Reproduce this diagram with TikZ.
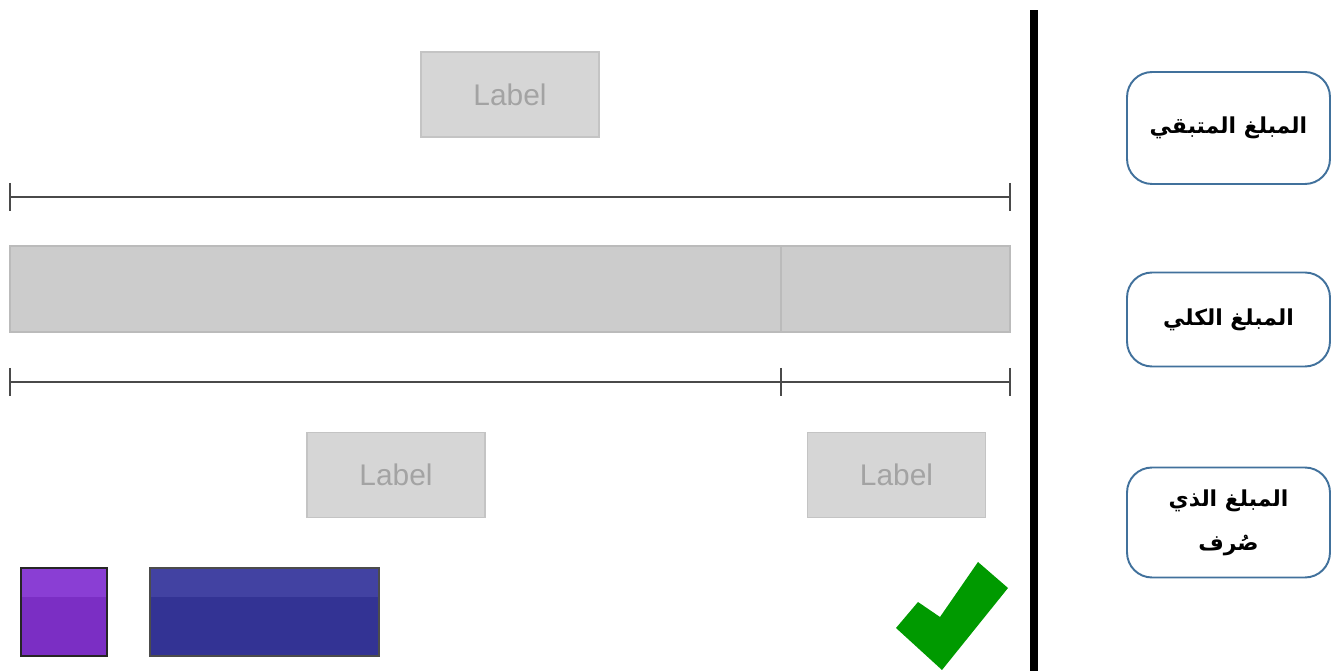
\documentclass[tikz,border=0pt]{standalone}
\usepackage{fontspec}
\setmainfont{Liberation Sans}
\newfontfamily\arabicfont[Script=Arabic]{DejaVu Sans}
\TeXXeTstate=1
\usetikzlibrary{calc,positioning}
\definecolor{labelgray}{HTML}{D6D6D6}
\definecolor{labeledge}{HTML}{C4C4C4}
\definecolor{labeltext}{HTML}{A3A3A3}
\definecolor{barfill}{HTML}{CCCCCC}
\definecolor{baredge}{HTML}{BBBBBB}
\definecolor{rulegray}{HTML}{4A4A4A}
\definecolor{boxblue}{HTML}{41719C}
\definecolor{ticklow}{HTML}{7B2EC4}
\definecolor{tickhigh}{HTML}{8A3ED4}
\definecolor{navylow}{HTML}{333394}
\definecolor{navyhigh}{HTML}{4242A2}
\definecolor{checkgreen}{HTML}{009A00}

\tikzset{
  labelbox/.style={fill=labelgray,draw=labeledge,line width=0.8pt,minimum width=3.56cm,minimum height=1.7cm,inner sep=0pt,text=labeltext,font=\fontsize{17}{20}\selectfont},
  termbox/.style={draw=boxblue,line width=1.1pt,rounded corners=0.5cm,minimum width=4.06cm,inner sep=0pt,align=center,font=\arabicfont\bfseries\fontsize{12.5}{25}\selectfont},
  measure/.style={rulegray,line width=1.1pt}
}

\begin{document}
\begin{tikzpicture}[x=0.02cm,y=-0.02cm]
\useasboundingbox (0,0) rectangle (1333,671);
% label boxes
\node[labelbox] (whole) at (510,94.5) {Label};
\node[labelbox] (spent) at (396,475) {Label};
\node[labelbox] (left) at (896.5,475) {Label};
% bar model
\draw[fill=barfill,draw=baredge,line width=0.8pt] (10,246) rectangle (781,332);
\draw[fill=barfill,draw=baredge,line width=0.8pt] (781,246) rectangle (1010,332);
% measures
\coordinate (ta) at (10,197); \coordinate (tb) at (1010,197);
\coordinate (ba) at (10,382); \coordinate (bm) at (781,382); \coordinate (bb) at (1010,382);
\draw[measure] (ta) -- (tb);
\draw[measure] (ba) -- (bb);
\foreach \p in {ta,tb,ba,bm,bb}
  \draw[measure] ($(\p)+(0,-14)$) -- ($(\p)+(0,14)$);
% pieces
\fill[ticklow] (21,568) rectangle (107,656);
\fill[tickhigh] (21,568) rectangle (107,597);
\draw[black!85,line width=1.3pt] (21,568) rectangle (107,656);
\fill[navylow] (150,568) rectangle (379,656);
\fill[navyhigh] (150,568) rectangle (379,597);
\draw[black!70,line width=1pt] (150,568) rectangle (379,656);
% check mark
\fill[checkgreen] (896,628) -- (918,602) -- (940,617) -- (978,562) -- (1008,588) -- (942,670) -- cycle;
% divider
\fill[black] (1030,10) rectangle (1038,671);
% terms
\node[termbox,minimum height=2.24cm] (rest) at (1228.5,128) {\beginR المبلغ المتبقي\endR};
\node[termbox,minimum height=1.88cm] (total) at (1228.5,319.5) {\beginR المبلغ الكلي\endR};
\node[termbox,minimum height=2.2cm] (paid) at (1228.5,522.5) {\beginR المبلغ الذي\endR\\\beginR صُرف\endR};
\end{tikzpicture}
\end{document}
